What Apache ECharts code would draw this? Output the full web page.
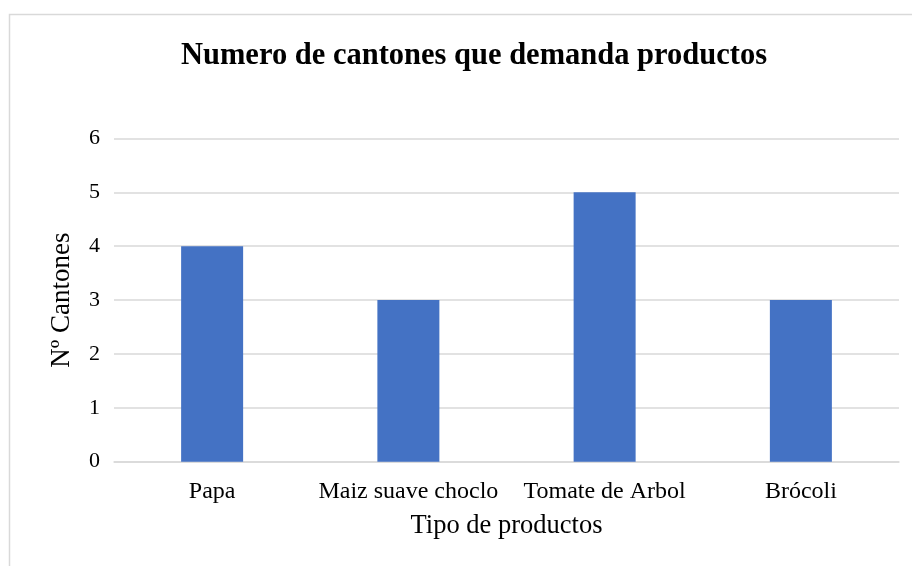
<!DOCTYPE html>
<html><head><meta charset="utf-8">
<script src="https://cdn.jsdelivr.net/npm/echarts@6/dist/echarts.min.js"></script>
<style>html,body{margin:0;padding:0;background:#fff}#c{width:912px;height:566px}</style>
</head><body><div id="c"></div>
<script>
const categories = ['Papa', 'Maiz suave choclo', 'Tomate de Arbol', 'Brócoli'];
const values = [4, 3, 5, 3];
const yTicks = [0, 1, 2, 3, 4, 5, 6];
const FONT = '"Liberation Serif", "Times New Roman", serif';
const chart = echarts.init(document.getElementById('c'));
chart.setOption({
  animation: false,
  graphic: [{type: 'rect', shape: {x: 9.5, y: 14.5, width: 1000, height: 1000}, style: {fill: 'none', stroke: '#d9d9d9', lineWidth: 1.5}}],
  title: {text: 'Numero de cantones que demanda productos', left: 469, top: 36, textAlign: 'center',
    textStyle: {fontFamily: FONT, fontWeight: 'bold', fontSize: 30.5, color: '#000'}},
  grid: {left: 114, right: 13, top: 138.5, bottom: 104.3},
  xAxis: {type: 'category', data: categories, name: 'Tipo de productos', nameLocation: 'middle', nameGap: 51,
    nameTextStyle: {fontFamily: FONT, fontSize: 26.5, color: '#000'},
    axisLine: {lineStyle: {color: '#d9d9d9', width: 1.5}}, axisTick: {show: false},
    axisLabel: {fontFamily: FONT, fontSize: 24, color: '#000', margin: 18, interval: 0}},
  yAxis: {type: 'value', min: 0, max: 6, interval: 1, name: 'Nº Cantones', nameLocation: 'middle', nameGap: 39,
    nameTextStyle: {fontFamily: FONT, fontSize: 27, color: '#000'},
    axisLabel: {fontFamily: FONT, fontSize: 22, color: '#000', margin: 14, formatter: v => yTicks.includes(v) ? String(v) : ''},
    axisLine: {show: false}, axisTick: {show: false},
    splitLine: {lineStyle: {color: '#d9d9d9', width: 1.5}}},
  series: [{type: 'bar', data: values, barWidth: 62, itemStyle: {color: '#4472C4'}}]
});
</script></body></html>
